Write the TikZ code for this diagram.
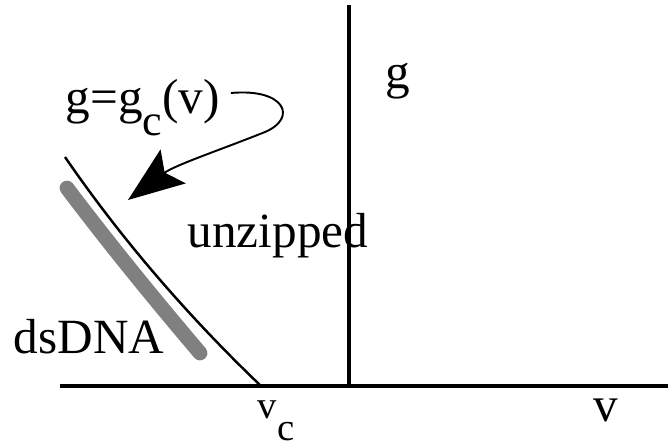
\documentclass[tikz,border=0pt]{standalone}
\usepackage{fontspec}
\setmainfont{Liberation Serif}
\usetikzlibrary{arrows.meta}

\begin{document}
\begin{tikzpicture}[
  x=0.01cm, y=-0.01cm,
  font=\fontsize{14}{16}\selectfont,
  lbl/.style={inner sep=0pt, anchor=base west},
  axis/.style={line width=1.15pt},
  bound/.style={line width=0.7pt},
  dna/.style={line width=4.2pt, color=gray, line cap=round},
  pointer/.style={line width=0.55pt, -{Stealth[length=16pt, width=12pt, inset=3pt]}}
]
  \useasboundingbox (0,0) rectangle (668,445);

  % axes
  \coordinate (xstart) at (60,386);
  \coordinate (xend) at (668,386);
  \coordinate (ytop) at (349,5);
  \coordinate (origin) at (349,386);
  \draw[axis] (xstart) -- (xend);
  \draw[axis] (ytop) -- (origin);

  % labels
  \node[lbl] (glab) at (385,88) {g};
  \node[lbl] (vlab) at (593,421) {v};
  \node[lbl, font=\fontsize{11}{13}\selectfont] (vclab) at (257,418) {v\raisebox{-6.5pt}{c}};
  \node[lbl] (unzip) at (187,247) {unzipped};
  \node[lbl] (ds) at (13,353) {dsDNA};
  \node[lbl] (gcrit) at (65,113) {g=g\raisebox{-6.3pt}{\fontsize{12.5}{14}\selectfont c}(v)};

  % transition line g = g_c(v)
  \coordinate (ctop) at (65,157);
  \coordinate (vc) at (261,386);
  \draw[bound] (ctop) .. controls (122,240) and (188,316) .. (vc);

  % double strand
  \coordinate (dstop) at (67,188);
  \coordinate (dsbot) at (200,353);
  \draw[dna] (dstop) .. controls (110,245) and (155,300) .. (dsbot);

  % pointer to the line
  \coordinate (turn) at (265,132);
  \coordinate (hit) at (128,200);
  \draw[pointer] ([xshift=3pt]gcrit.east |- 0,93) .. controls (285,88) and (298,118) .. (turn)
    .. controls (220,150) and (175,165) .. (hit);

\end{tikzpicture}
\end{document}
